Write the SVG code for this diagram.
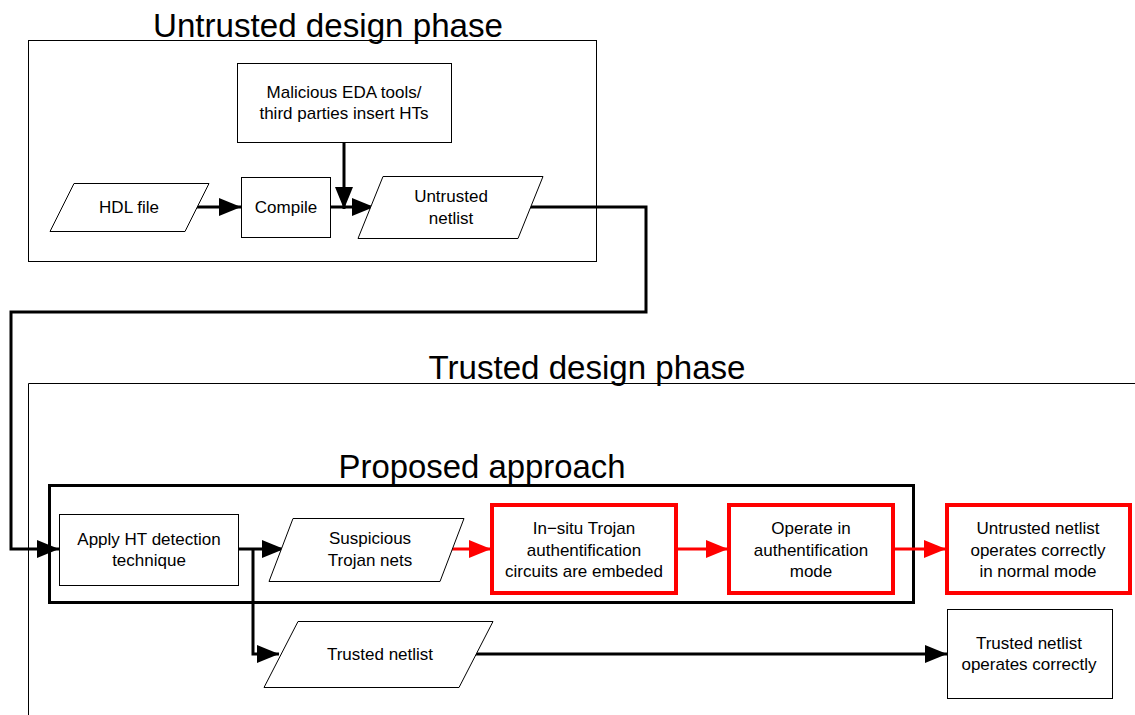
<svg xmlns="http://www.w3.org/2000/svg" width="1135" height="715" viewBox="0 0 1135 715">
  <style>
    .frame { fill: none; stroke: #000; stroke-width: 1; }
    .node { fill: #fff; stroke: #000; stroke-width: 1; }
    .hot { fill: #fff; stroke: #f00; stroke-width: 4; }
    .lbl { font-family: "Liberation Sans", Arial, sans-serif; font-size: 17px; text-anchor: middle; fill: #000; }
    .title { font-family: "Liberation Sans", Arial, sans-serif; font-size: 34px; text-anchor: middle; fill: #000; }
    .wire { fill: none; stroke: #000; stroke-width: 3; }
    .wire-red { fill: none; stroke: #f00; stroke-width: 3; }
  </style>
  <defs>
    <marker id="ah" markerUnits="userSpaceOnUse" markerWidth="24" markerHeight="20" refX="22" refY="10" orient="auto">
      <path d="M0,1 L22,10 L0,19 Z" fill="#000"/>
    </marker>
    <marker id="ah-red" markerUnits="userSpaceOnUse" markerWidth="24" markerHeight="20" refX="22" refY="10" orient="auto">
      <path d="M0,1 L22,10 L0,19 Z" fill="#f00"/>
    </marker>
  </defs>

  <rect width="1135" height="715" fill="#fff"/>

  <!-- phase frames and titles -->
  <g id="untrusted-phase">
    <rect class="frame" x="28.5" y="40.5" width="568" height="221"/>
    <text class="title" x="328" y="37" textLength="350" lengthAdjust="spacingAndGlyphs">Untrusted design phase</text>
  </g>
  <g id="trusted-phase">
    <path class="frame" d="M28.5,715 V383.5 H1135"/>
    <text class="title" x="587" y="379" textLength="317" lengthAdjust="spacingAndGlyphs">Trusted design phase</text>
  </g>
  <g id="proposed-approach">
    <rect x="49.5" y="485.5" width="864" height="117" fill="none" stroke="#000" stroke-width="3"/>
    <text class="title" x="482" y="478" textLength="287" lengthAdjust="spacingAndGlyphs">Proposed approach</text>
  </g>

  <!-- connectors -->
  <g id="connectors">
    <path class="wire" d="M197,207 H241" marker-end="url(#ah)"/>
    <path class="wire" d="M330,207 H374" marker-end="url(#ah)"/>
    <path class="wire" d="M344,142 V209" marker-end="url(#ah)"/>
    <path class="wire" d="M528,207 H646 V312 H11 V549 H59" marker-end="url(#ah)"/>
    <path class="wire" d="M238,549 H284" marker-end="url(#ah)"/>
    <path class="wire" d="M253,549 V654 H279" marker-end="url(#ah)"/>
    <path class="wire-red" d="M450,549 H491" marker-end="url(#ah-red)"/>
    <path class="wire-red" d="M677,549 H728" marker-end="url(#ah-red)"/>
    <path class="wire-red" d="M894,549 H946" marker-end="url(#ah-red)"/>
    <path class="wire" d="M475,654 H947" marker-end="url(#ah)"/>
  </g>

  <!-- nodes -->
  <g id="malicious-eda">
    <rect class="node" x="237.5" y="63.5" width="214" height="79"/>
    <text class="lbl" x="344" y="98">Malicious EDA tools/</text>
    <text class="lbl" x="344" y="119">third parties insert HTs</text>
  </g>
  <g id="hdl-file">
    <polygon class="node" points="74,183.5 209,183.5 185,231.5 50,231.5"/>
    <text class="lbl" x="129" y="213">HDL file</text>
  </g>
  <g id="compile">
    <rect class="node" x="241.5" y="177.5" width="89" height="60"/>
    <text class="lbl" x="286" y="213">Compile</text>
  </g>
  <g id="untrusted-netlist">
    <polygon class="node" points="383,176.5 543,176.5 518,238.5 358,238.5"/>
    <text class="lbl" x="451" y="202">Untrusted</text>
    <text class="lbl" x="451" y="224">netlist</text>
  </g>
  <g id="apply-ht-detection">
    <rect class="node" x="59.5" y="514.5" width="179" height="71"/>
    <text class="lbl" x="149" y="545">Apply HT detection</text>
    <text class="lbl" x="149" y="566">technique</text>
  </g>
  <g id="suspicious-nets">
    <polygon class="node" points="293,518.5 464,518.5 440,581.5 269,581.5"/>
    <text class="lbl" x="370" y="544">Suspicious</text>
    <text class="lbl" x="370" y="566">Trojan nets</text>
  </g>
  <g id="insitu-circuits">
    <rect class="hot" x="492" y="505" width="184" height="88"/>
    <text class="lbl" x="584" y="534">In−situ Trojan</text>
    <text class="lbl" x="584" y="556">authentification</text>
    <text class="lbl" x="584" y="577">circuits are embeded</text>
  </g>
  <g id="auth-mode">
    <rect class="hot" x="729" y="505" width="164" height="88"/>
    <text class="lbl" x="811" y="534">Operate in</text>
    <text class="lbl" x="811" y="556">authentification</text>
    <text class="lbl" x="811" y="577">mode</text>
  </g>
  <g id="normal-mode">
    <rect class="hot" x="947" y="505" width="183" height="88"/>
    <text class="lbl" x="1038" y="534">Untrusted netlist</text>
    <text class="lbl" x="1038" y="556">operates correctly</text>
    <text class="lbl" x="1038" y="577">in normal mode</text>
  </g>
  <g id="trusted-netlist">
    <polygon class="node" points="298,621.5 493,621.5 459,687.5 264,687.5"/>
    <text class="lbl" x="380" y="660">Trusted netlist</text>
  </g>
  <g id="trusted-correct">
    <rect class="node" x="947.5" y="609.5" width="165" height="89"/>
    <text class="lbl" x="1029" y="649">Trusted netlist</text>
    <text class="lbl" x="1029" y="670">operates correctly</text>
  </g>
</svg>
